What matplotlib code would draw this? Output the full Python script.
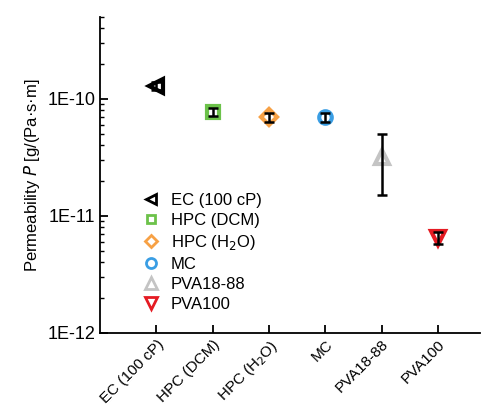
import numpy as np
import matplotlib.pyplot as plt

plt.rcParams['font.family'] = ['Liberation Sans', 'DejaVu Sans']

# data
samples = ['EC (100 cP)', 'HPC (DCM)', 'HPC (H$_2$O)', 'MC', 'PVA18-88', 'PVA100']
perm = [1.3e-10, 7.8e-11, 7.0e-11, 7.0e-11, 3.2e-11, 6.5e-12]
err_lo = [0.1e-10, 0.6e-11, 0.6e-11, 0.6e-11, 1.7e-11, 0.8e-12]
err_hi = [0.1e-10, 0.6e-11, 0.6e-11, 0.6e-11, 1.8e-11, 0.8e-12]
markers = ['<', 's', 'D', 'o', '^', 'v']
colors = ['#000000', '#6cc24a', '#f7a145', '#3a9ee4', '#c4c4c4', '#e51b23']
msizes = [9.5, 8, 8, 9, 10.5, 10.5]

fig = plt.figure(figsize=(4.84, 4.07), dpi=100)
ax = fig.add_axes([0.207, 0.182, 0.785, 0.776])

x = np.arange(len(samples))
for i in range(len(samples)):
    ax.plot(x[i], perm[i], linestyle='none', marker=markers[i], ms=msizes[i],
            mfc='white', mec=colors[i], mew=3, label=samples[i], zorder=2)
    ax.errorbar(x[i], perm[i], yerr=[[err_lo[i]], [err_hi[i]]], fmt='none',
                ecolor='black', elinewidth=1.8, capsize=3.5, capthick=1.8, zorder=3)

ax.set_yscale('log')
ax.set_ylim(1e-12, 5e-10)
ax.set_xlim(-1, 5.75)
ax.set_yticks([1e-12, 1e-11, 1e-10])
ax.set_yticklabels(['1E-12', '1E-11', '1E-10'])
ax.set_xticks(x)
ax.set_xticklabels(samples, rotation=45, ha='right', rotation_mode='anchor')

ax.spines['top'].set_visible(False)
ax.spines['right'].set_visible(False)
ax.spines['left'].set_linewidth(1.3)
ax.spines['bottom'].set_linewidth(1.3)
ax.tick_params(axis='y', which='major', direction='in', length=6, width=1.3, labelsize=13)
ax.tick_params(axis='x', which='major', direction='in', length=6, width=1.3, labelsize=11, pad=3)
ax.tick_params(axis='y', which='minor', direction='in', length=3, width=1)

ax.set_ylabel('Permeability $P$ [g/(Pa·s·m]', fontsize=12)

leg = ax.legend(loc='upper left', bbox_to_anchor=(0.05, 0.49), frameon=False,
                fontsize=12, handletextpad=0.2, labelspacing=0.3, markerscale=0.8)
for h in leg.legend_handles:
    h.set_markeredgewidth(2)

plt.savefig('out.png', dpi=100)
